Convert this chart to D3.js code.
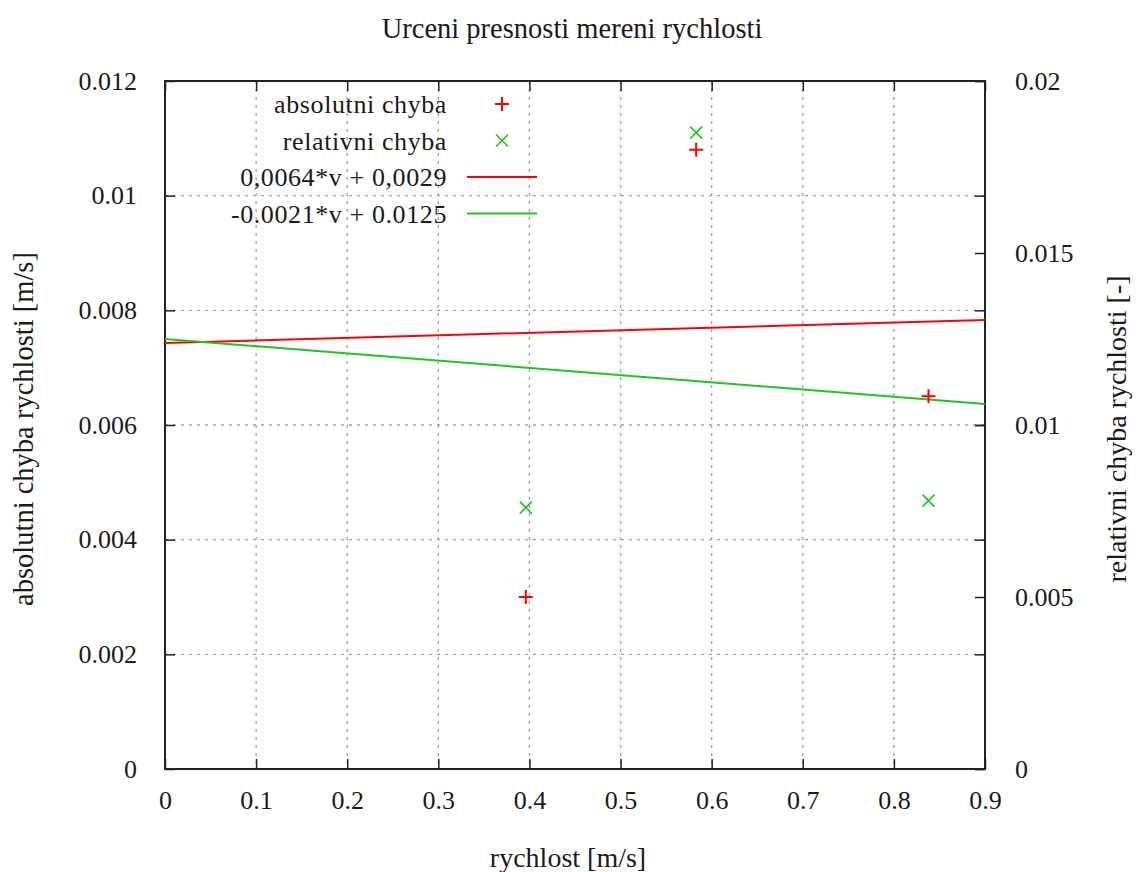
<!DOCTYPE html>
<html>
<head>
<meta charset="utf-8">
<script src="https://cdn.jsdelivr.net/npm/d3@7"></script>
<style>
  body { margin: 0; background: #fff; }
  text { font-family: "Liberation Serif", "DejaVu Serif", serif; fill: #1a1a1a; }
  .grid line { stroke: #a0a0a0; stroke-width: 1.3; stroke-dasharray: 3,5; }
</style>
</head>
<body>
<svg width="1136" height="872"></svg>
<script>
// data
var velocity = [0.396, 0.583, 0.838];
var absError = [0.0030, 0.0108, 0.0065];
var relError = [0.0076, 0.0185, 0.0078];
var fitX = [0, 0.9];
var absFit = [0.00743, 0.00783];
var relFit = [0.0125, 0.01061];
var xTicks = [0, 0.1, 0.2, 0.3, 0.4, 0.5, 0.6, 0.7, 0.8, 0.9];
var yTicks = [0, 0.002, 0.004, 0.006, 0.008, 0.01, 0.012];
var y2Ticks = [0, 0.005, 0.01, 0.015, 0.02];
var legendLabels = ["absolutni chyba", "relativni chyba", "0,0064*v + 0,0029", "-0.0021*v + 0.0125"];

var red = "#ff0000", green = "#22c422";

var svg = d3.select("svg"),
    margin = {top: 81, right: 151, bottom: 103, left: 165},
    width = 1136 - margin.left - margin.right,
    height = 872 - margin.top - margin.bottom;

var x = d3.scaleLinear().domain([0, 0.9]).range([0, width]);
var y = d3.scaleLinear().domain([0, 0.012]).range([height, 0]);
var y2 = d3.scaleLinear().domain([0, 0.02]).range([height, 0]);

var g = svg.append("g")
    .attr("transform", "translate(" + margin.left + "," + margin.top + ")");

// grid
var grid = g.append("g").attr("class", "grid");
grid.selectAll(".gx").data(xTicks.slice(1)).enter().append("line")
    .attr("x1", d => x(d)).attr("x2", d => x(d))
    .attr("y1", 0).attr("y2", height);
grid.selectAll(".gy").data(yTicks.slice(1)).enter().append("line")
    .attr("x1", 0).attr("x2", width)
    .attr("y1", d => y(d)).attr("y2", d => y(d));

// axes (ticks inside, gnuplot style)
var fmt = d => String(d);
var tickStyle = function(sel) {
  sel.select(".domain").remove();
  sel.selectAll(".tick line").attr("stroke", "#222").attr("stroke-width", 1.5);
  sel.selectAll(".tick text").style("font-size", "26px");
};

g.append("g").attr("transform", "translate(0," + height + ")")
  .call(d3.axisBottom(x).tickValues(xTicks).tickFormat(fmt).tickSizeInner(-10).tickPadding(22))
  .call(tickStyle);
g.append("g")
  .call(d3.axisTop(x).tickValues(xTicks).tickFormat("").tickSizeInner(-10))
  .call(tickStyle);
g.append("g")
  .call(d3.axisLeft(y).tickValues(yTicks).tickFormat(fmt).tickSizeInner(-10).tickPadding(28))
  .call(tickStyle);
g.append("g").attr("transform", "translate(" + width + ",0)")
  .call(d3.axisRight(y).tickValues(yTicks).tickFormat("").tickSizeInner(-10))
  .call(tickStyle);
g.append("g").attr("transform", "translate(" + width + ",0)")
  .call(d3.axisRight(y2).tickValues(y2Ticks).tickFormat(fmt).tickSizeInner(-10).tickPadding(30))
  .call(tickStyle);

// border
g.append("rect")
    .attr("width", width).attr("height", height)
    .attr("fill", "none").attr("stroke", "#222").attr("stroke-width", 2);

// fit lines
var absLine = d3.line().x((d, i) => x(fitX[i])).y(d => y(d));
var relLine = d3.line().x((d, i) => x(fitX[i])).y(d => y2(d));
g.append("path").datum(absFit).attr("d", absLine)
    .attr("fill", "none").attr("stroke", red).attr("stroke-width", 2);
g.append("path").datum(relFit).attr("d", relLine)
    .attr("fill", "none").attr("stroke", green).attr("stroke-width", 2);

// markers
function plus(sel, s) {
  sel.append("path").attr("d", "M" + (-s) + ",0H" + s + "M0," + (-s) + "V" + s);
}
function cross(sel, s) {
  sel.append("path").attr("d", "M" + (-s) + "," + (-s) + "L" + s + "," + s + "M" + (-s) + "," + s + "L" + s + "," + (-s));
}

g.selectAll(".abs").data(velocity).enter().append("g")
    .attr("transform", (d, i) => "translate(" + x(d) + "," + y(absError[i]) + ")")
    .attr("stroke", red).attr("stroke-width", 2)
    .each(function() { plus(d3.select(this), 7); });
g.selectAll(".rel").data(velocity).enter().append("g")
    .attr("transform", (d, i) => "translate(" + x(d) + "," + y2(relError[i]) + ")")
    .attr("stroke", green).attr("stroke-width", 1.6)
    .each(function() { cross(d3.select(this), 6); });

// legend
var leg = g.append("g").attr("transform", "translate(282,23)");
legendLabels.forEach(function(t, i) {
  var row = leg.append("g").attr("transform", "translate(0," + (i * 36.5) + ")");
  row.append("text").attr("text-anchor", "end").attr("dy", "0.35em")
      .style("font-size", "26px").style("letter-spacing", "0.6px").text(t);
  if (i == 0) { row.append("g").attr("transform", "translate(55,0)").attr("stroke", red).attr("stroke-width", 2).call(plus, 7); }
  if (i == 1) { row.append("g").attr("transform", "translate(55,0)").attr("stroke", green).attr("stroke-width", 1.6).call(cross, 6); }
  if (i >= 2) {
    row.append("line").attr("x1", 20).attr("x2", 90)
        .attr("stroke", i == 2 ? red : green).attr("stroke-width", 2);
  }
});

// titles
svg.append("text").attr("x", 572).attr("y", 28).attr("text-anchor", "middle").attr("dy", "0.35em")
    .style("font-size", "28.5px").text("Urceni presnosti mereni rychlosti");
svg.append("text").attr("x", 568).attr("y", 857).attr("text-anchor", "middle").attr("dy", "0.35em")
    .style("font-size", "28px").text("rychlost [m/s]");
svg.append("text").attr("transform", "translate(24,429) rotate(-90)").attr("text-anchor", "middle").attr("dy", "0.33em")
    .style("font-size", "28.5px").text("absolutni chyba rychlosti [m/s]");
svg.append("text").attr("transform", "translate(1118,429) rotate(-90)").attr("text-anchor", "middle").attr("dy", "0.3em")
    .style("font-size", "28px").text("relativni chyba rychlosti [-]");
</script>
</body>
</html>
